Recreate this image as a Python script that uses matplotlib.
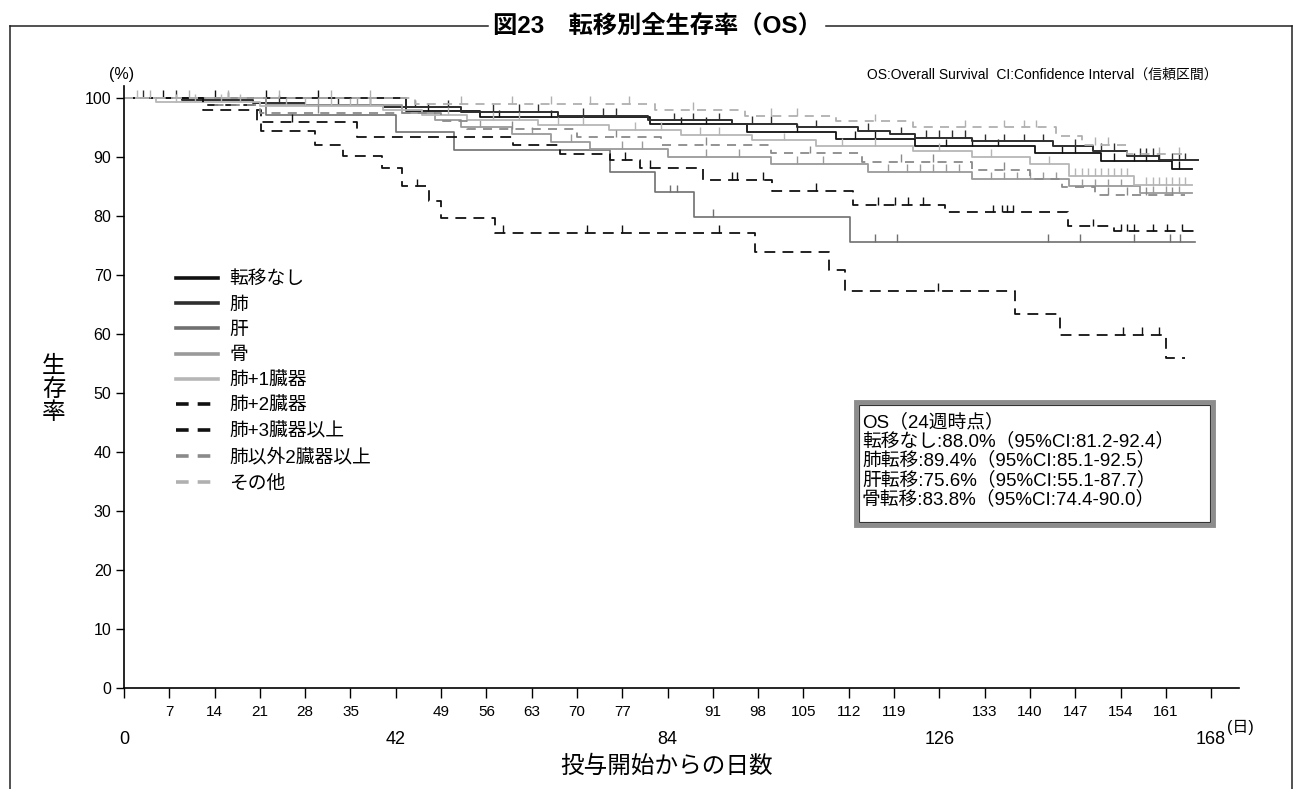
import matplotlib
matplotlib.use('Agg')
import matplotlib.pyplot as plt
from matplotlib.lines import Line2D
from matplotlib.patches import Rectangle

plt.rcParams['font.family'] = ['Liberation Sans', 'Noto Sans CJK JP', 'DejaVu Sans']

# Kaplan-Meier steps per group: event days, survival (%) after each event,
# censored days, last follow-up day
nomet_t = [43.5, 55, 81.3, 96.3, 110.0, 122.3, 140.8, 151.0, 162.0]
nomet_s = [97.8, 96.7, 95.5, 94.2, 93.0, 91.8, 90.6, 89.3, 88.0]
nomet_c = [6, 14, 22, 30, 47, 58, 66, 86, 90, 104, 113, 116, 127, 131, 135,
           145, 147, 153, 156, 158, 160, 163]
nomet_end = 165

lung_t = [9, 20, 28, 40, 52, 67, 81, 94, 104, 113.5, 118.4, 122.3, 131,
          143.6, 149.8, 155, 160]
lung_s = [99.6, 99.2, 98.8, 98.4, 97.6, 97.0, 96.2, 95.6, 95.0, 94.4, 93.8,
          93.2, 92.6, 91.8, 91.0, 90.2, 89.4]
lung_c = [3, 8, 16, 24, 33, 38, 45, 50, 57, 61, 64, 71, 74, 76, 85, 88, 92,
          97, 100, 107, 115, 120, 124, 126, 128, 130, 133, 136, 139, 142, 147,
          151, 153, 157, 158, 159, 162, 163, 164]
lung_end = 166

liver_t = [22, 42, 51, 75.1, 82.1, 88.1, 112.2]
liver_s = [97.1, 94.2, 91.1, 87.4, 84.0, 79.8, 75.6]
liver_c = [84.4, 85.5, 91, 116, 119.5, 142.8, 147.8, 156, 161.7, 163.2]
liver_end = 165.5

bone_t = [22, 43, 48, 52, 60, 66, 72, 84, 100, 115, 131, 146, 157]
bone_s = [98.8, 97.5, 96.3, 95.0, 93.8, 92.5, 91.3, 90.0, 88.8, 87.5, 86.2,
          85.0, 83.8]
bone_c = [30, 36, 55, 63, 69, 77, 80, 90, 95, 104, 108, 118, 121, 123, 125,
          127, 129, 134, 136, 138, 140, 142, 144, 148, 150, 152, 154, 159,
          161, 163]
bone_end = 165

lung1_t = [5, 21, 40, 46, 53, 64, 75, 86, 97, 107, 122, 131, 140, 146, 156]
lung1_s = [99.3, 98.6, 97.9, 97.1, 96.3, 95.4, 94.6, 93.7, 92.8, 91.9, 91.0,
           90.0, 88.8, 86.8, 85.2]
lung1_c = [2, 8, 11, 15, 18, 25, 28, 32, 35, 38, 50, 57, 61, 67, 71, 79, 83,
           89, 92, 102, 111, 116, 126, 134, 143, 147, 148, 149, 150, 151, 152,
           153, 154, 155, 158, 159, 160, 161, 162, 163, 164]
lung1_end = 165

lung2_t = [12.2, 20.5, 36, 60.1, 67.4, 75.1, 79.8, 89.5, 100.1, 112.7, 126.9,
           145.9, 153]
lung2_s = [98.8, 95.9, 93.3, 92.0, 90.4, 89.5, 88.1, 86.1, 84.2, 81.9, 80.6,
           78.2, 77.4]
lung2_c = [26, 77.4, 81.3, 94, 94.7, 98.8, 107, 116.5, 119.2, 121.2, 123.5,
           134.3, 135.7, 136.5, 137.4, 149.8, 154, 155, 156, 159, 161.2, 163.5]
lung2_end = 166

lung3_t = [12.2, 21.2, 29.5, 33.8, 39.8, 42.9, 47.2, 49.0, 57.3, 97.5, 109.0,
           111.4, 137.7, 144.7, 161.0]
lung3_s = [98.0, 94.3, 92.0, 90.2, 88.1, 85.0, 82.5, 79.6, 77.1, 73.8, 70.9,
           67.3, 63.4, 59.8, 55.9]
lung3_c = [45.3, 58.5, 71.5, 77, 92, 125.8, 154.4, 157.3, 160.0]
lung3_end = 164

other2_t = [14, 21, 49, 53, 70, 83, 100, 114, 131, 140, 145, 150]
other2_s = [98.7, 97.4, 96.0, 94.7, 93.3, 92.0, 90.6, 89.2, 87.8, 86.3, 84.9,
            83.6]
other2_c = [30, 60, 76, 90, 106, 120, 125, 136, 152, 155, 158, 162]
other2_end = 164

misc_t = [45, 82, 96, 110, 122, 144, 148, 155]
misc_s = [99.0, 98.0, 97.0, 96.0, 95.0, 93.6, 92.0, 90.4]
misc_c = [4, 10, 16, 24, 32, 38, 52, 60, 66, 72, 78, 88, 100, 104, 116, 130,
          136, 139, 141, 150, 152, 160, 163]
misc_end = 164

group_names = ['転移なし', '肺', '肝', '骨', '肺+1臓器', '肺+2臓器', '肺+3臓器以上',
               '肺以外2臓器以上', 'その他']

# 24-week summary rows and their confidence limits
summary_names = ['転移なし', '肺転移', '肝転移', '骨転移']
summary_ci_lo = [81.2, 85.1, 55.1, 74.4]
summary_ci_hi = [92.4, 92.5, 87.7, 90.0]

major_days = [0, 42, 84, 126, 168]
minor_days = [7, 14, 21, 28, 35, 49, 56, 63, 70, 77, 91, 98, 105, 112, 119,
              133, 140, 147, 154, 161]

groups = [
    (nomet_t, nomet_s, nomet_c, nomet_end, dict(color='#111111', lw=1.3)),
    (lung_t, lung_s, lung_c, lung_end, dict(color='#2e2e2e', lw=1.4)),
    (liver_t, liver_s, liver_c, liver_end, dict(color='#707070', lw=1.2)),
    (bone_t, bone_s, bone_c, bone_end, dict(color='#9a9a9a', lw=1.3)),
    (lung1_t, lung1_s, lung1_c, lung1_end, dict(color='#b6b6b6', lw=1.3)),
    (lung2_t, lung2_s, lung2_c, lung2_end, dict(color='#111111', lw=1.3, dashes=(6, 4))),
    (lung3_t, lung3_s, lung3_c, lung3_end, dict(color='#111111', lw=1.3, dashes=(6, 4))),
    (other2_t, other2_s, other2_c, other2_end, dict(color='#8a8a8a', lw=1.3, dashes=(5, 4))),
    (misc_t, misc_s, misc_c, misc_end, dict(color='#b0b0b0', lw=1.3, dashes=(5, 4))),
]

W, H = 1301, 789


def fx(px):
    return px / W


def fy(py):
    return 1 - py / H


def surv_at(t, s, day):
    val = 100.0
    for ti, si in zip(t, s):
        if ti <= day:
            val = si
    return val


fig = plt.figure(figsize=(W / 100, H / 100), dpi=100)
ax = fig.add_axes([fx(124), fy(688), fx(1239) - fx(124), fy(86) - fy(688)])

handles = []
for t, s, c, end, style in groups:
    xs = [0] + t + [end]
    ys = [100] + s + [s[-1]]
    ax.step(xs, ys, where='post', **style)
    cy = [surv_at(t, s, d) for d in c]
    ax.vlines(c, cy, [v + 1.3 for v in cy], color=style['color'], lw=1.0)
    hstyle = dict(style)
    hstyle['lw'] = 2.6
    if 'dashes' in hstyle:
        hstyle['dashes'] = (3.5, 2.5)
    handles.append(Line2D([], [], **hstyle))

ax.set_xlim(0, 172.3)
ax.set_ylim(0, 102)
for side in ['top', 'right']:
    ax.spines[side].set_visible(False)
for side in ['left', 'bottom']:
    ax.spines[side].set_linewidth(1.2)

ax.set_yticks(range(0, 101, 10))
ax.tick_params(axis='y', length=6, width=1, pad=3, labelsize=11.5)
ax.set_xticks(major_days)
ax.set_xticklabels([str(d) for d in major_days])
ax.set_xticks(minor_days, minor=True)
ax.set_xticklabels([str(d) for d in minor_days], minor=True)
ax.tick_params(axis='x', which='major', length=7, width=1, pad=24, labelsize=13)
ax.tick_params(axis='x', which='minor', length=7, width=1, pad=5, labelsize=11)

ax.annotate('(日)', xy=(168, 0), xycoords='data', xytext=(16, -39),
            textcoords='offset pixels', ha='left', va='center', fontsize=11.5)

ax.legend(handles, group_names, loc='upper left',
          bbox_to_anchor=(fx(176), fy(271)), bbox_transform=fig.transFigure,
          frameon=False, fontsize=13.5, handlelength=2.25, handletextpad=0.6,
          labelspacing=0.44, borderpad=0, borderaxespad=0)

fig.text(fx(122), fy(75), '(%)', ha='center', va='center', fontsize=11.5)
fig.text(fx(54), fy(390), '生\n存\n率', ha='center', va='center', fontsize=17,
         linespacing=1.05)
fig.text(fx(667), fy(767), '投与開始からの日数', ha='center', va='center', fontsize=17)
fig.text(fx(1218), fy(75), 'OS:Overall Survival  CI:Confidence Interval（信頼区間）',
         ha='right', va='center', fontsize=10)

# title breaking the top edge of the outer frame
fig.text(fx(657), fy(26), '図23　転移別全生存率（OS）', ha='center', va='center',
         fontsize=17.5, fontweight='bold')
frame_kw = dict(color='#222222', lw=1.1)
fig.add_artist(Line2D([fx(10), fx(488)], [fy(26), fy(26)], **frame_kw))
fig.add_artist(Line2D([fx(826), fx(1292)], [fy(26), fy(26)], **frame_kw))
fig.add_artist(Line2D([fx(10), fx(10)], [fy(26), 0], **frame_kw))
fig.add_artist(Line2D([fx(1292), fx(1292)], [fy(26), 0], **frame_kw))

# 24-week summary box
fig.add_artist(Rectangle((fx(856), fy(525)), fx(1213) - fx(856), fy(402) - fy(525),
                         facecolor='white', edgecolor='#8c8c8c', lw=3.5))
fig.add_artist(Rectangle((fx(859), fy(522)), fx(1210) - fx(859), fy(405) - fy(522),
                         facecolor='none', edgecolor='#333333', lw=0.8))
final_vals = [nomet_s[-1], lung_s[-1], liver_s[-1], bone_s[-1]]
box_lines = ['OS（24週時点）']
for name, v, lo, hi in zip(summary_names, final_vals, summary_ci_lo, summary_ci_hi):
    box_lines.append(f'{name}:{v:.1f}%（95%CI:{lo:.1f}-{hi:.1f}）')
for i, line in enumerate(box_lines):
    fig.text(fx(862), fy(422 + i * 19.3), line, ha='left', va='center', fontsize=13.5)

fig.savefig('out.png', dpi=100)
